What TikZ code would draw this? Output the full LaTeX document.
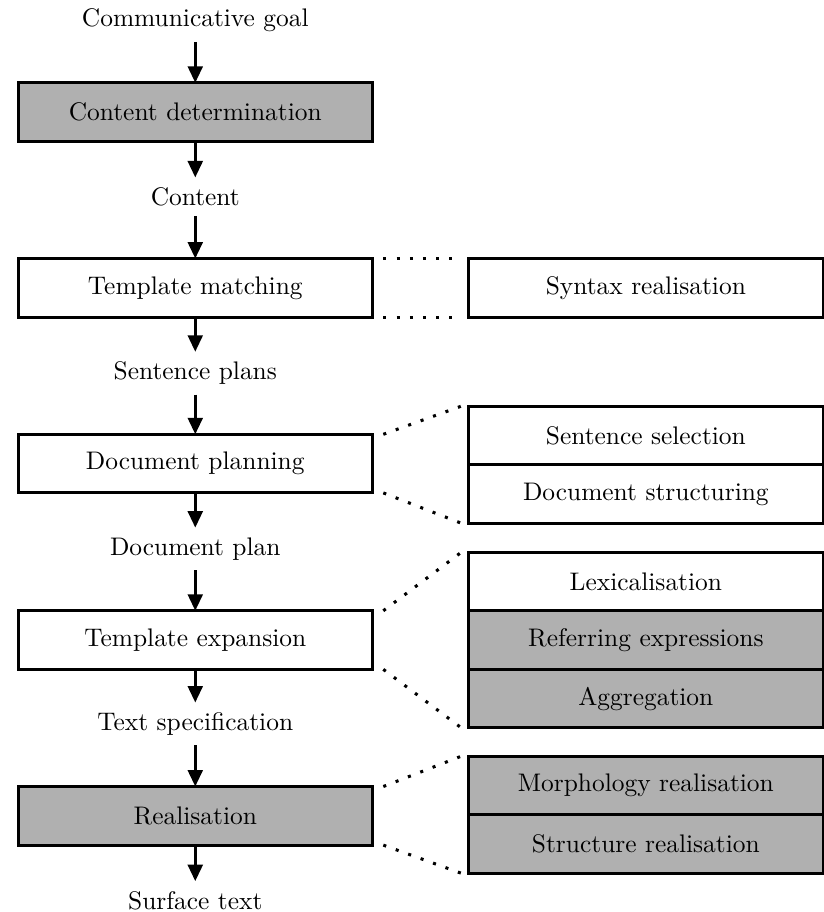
\documentclass[tikz,border=0pt]{standalone}
\usetikzlibrary{arrows.meta,positioning}

\begin{document}
\begin{tikzpicture}[line width=1.2pt]
  \colorlet{stage}{black!31}
  \tikzset{
    task/.style={draw,rectangle,outer sep=0pt,minimum width=4.9cm,minimum height=0.81cm},
    flow/.style={-{Triangle[length=6.5pt,width=5.8pt]}},
    link/.style={loosely dotted}
  }
  \useasboundingbox (0,0) rectangle (11.38,-12.61);
  % pipeline on the left: data in plain text, stages in boxes
  \node (goal)    at (2.70,-0.28)  {Communicative goal};
  \node[task,fill=stage] (cd) at (2.70,-1.55) {Content determination};
  \node (content) at (2.70,-2.72)  {Content};
  \node[task] (tm) at (2.70,-3.98) {Template matching};
  \node (plans)   at (2.70,-5.16)  {Sentence plans};
  \node[task] (dp) at (2.70,-6.41) {Document planning};
  \node (docplan) at (2.70,-7.59)  {Document plan};
  \node[task] (te) at (2.70,-8.85) {Template expansion};
  \node (spec)    at (2.70,-10.01) {Text specification};
  \node[task,fill=stage] (real) at (2.70,-11.28) {Realisation};
  \node (surface) at (2.70,-12.45) {Surface text};
  \draw[flow] (goal) -- (cd);
  \draw[flow] (cd) -- (content);
  \draw[flow] (content) -- (tm);
  \draw[flow] (tm) -- (plans);
  \draw[flow] (plans) -- (dp);
  \draw[flow] (dp) -- (docplan);
  \draw[flow] (docplan) -- (te);
  \draw[flow] (te) -- (spec);
  \draw[flow] (spec) -- (real);
  \draw[flow] (real) -- (surface);
  % sub-tasks on the right, stacked without gaps
  \node[task] (syn) at (8.93,-3.98) {Syntax realisation};
  \node[task] (sel) at (8.93,-6.02) {Sentence selection};
  \node[task,below=0pt of sel] (struc) {Document structuring};
  \node[task] (lex) at (8.93,-8.04) {Lexicalisation};
  \node[task,fill=stage,below=0pt of lex] (ref) {Referring expressions};
  \node[task,fill=stage,below=0pt of ref] (agg) {Aggregation};
  \node[task,fill=stage] (morph) at (8.93,-10.86) {Morphology realisation};
  \node[task,fill=stage,below=0pt of morph] (strc) {Structure realisation};
  % dotted fans from each stage to its sub-tasks
  \draw[link] ([xshift=0.15cm]tm.north east) -- ([xshift=-0.1cm]syn.north west);
  \draw[link] ([xshift=0.15cm]tm.south east) -- ([xshift=-0.1cm]syn.south west);
  \draw[link] ([xshift=0.15cm]dp.north east) -- ([xshift=-0.1cm]sel.north west);
  \draw[link] ([xshift=0.15cm]dp.south east) -- ([xshift=-0.1cm]struc.south west);
  \draw[link] ([xshift=0.15cm]te.north east) -- ([xshift=-0.1cm]lex.north west);
  \draw[link] ([xshift=0.15cm]te.south east) -- ([xshift=-0.1cm]agg.south west);
  \draw[link] ([xshift=0.15cm]real.north east) -- ([xshift=-0.1cm]morph.north west);
  \draw[link] ([xshift=0.15cm]real.south east) -- ([xshift=-0.1cm]strc.south west);
\end{tikzpicture}
\end{document}
